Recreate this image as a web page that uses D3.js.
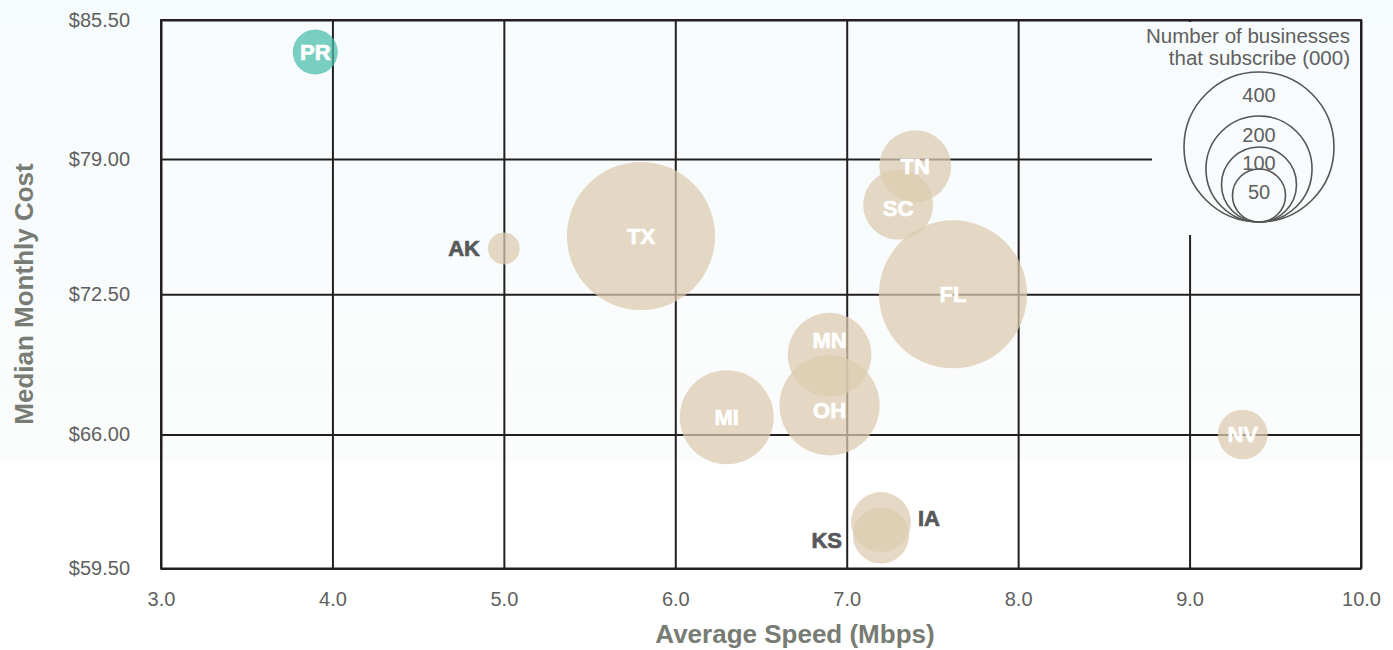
<!DOCTYPE html>
<html><head><meta charset="utf-8">
<script src="https://cdn.jsdelivr.net/npm/d3@7"></script>
<style>
html,body{margin:0;padding:0;background:#fff;}
svg{display:block;font-family:"Liberation Sans",Arial,Helvetica,sans-serif;}
</style></head>
<body>
<svg id="chart" width="1393" height="650"></svg>
<script>
// ---- data ----
const states     = ["PR","AK","TX","TN","SC","FL","MN","OH","MI","NV","IA","KS"];
const speed      = [3.9, 5.0, 5.8, 7.4, 7.3, 7.62, 6.9, 6.9, 6.3, 9.31, 7.2, 7.2];
const cost       = [84.0, 74.7, 75.3, 78.65, 76.8, 72.5, 69.7, 67.35, 66.8, 66.0, 61.75, 61.1];
const businesses = [36, 18, 390, 92, 87, 390, 125, 178, 157, 44, 64, 56];
const xTicks = [3,4,5,6,7,8,9,10];
const yTicks = [59.5,66,72.5,79,85.5];
const legendValues = [400,200,100,50];
const legendTitle = ["Number of businesses","that subscribe (000)"];
const xTitle = "Average Speed (Mbps)";
const yTitle = "Median Monthly Cost";

// ---- layout ----
const W = 1393, H = 650;
const pL = 161, pR = 1361, pT = 20, pB = 568.5;
const svg = d3.select("#chart");

const x = d3.scaleLinear().domain([3,10]).range([pL,pR]);
const y = d3.scaleLinear().domain(yTicks).range([568.5,434.5,294.3,159,20]);
const r = d3.scaleSqrt().domain([0,400]).range([0,75]);

// background gradient
const defs = svg.append("defs");
const g = defs.append("linearGradient").attr("id","bg")
  .attr("gradientUnits","userSpaceOnUse").attr("x1",0).attr("y1",0).attr("x2",0).attr("y2",H);
g.append("stop").attr("offset",0).attr("stop-color","#f6fbfd");
g.append("stop").attr("offset",0.71).attr("stop-color","#fbfcfc");
g.append("stop").attr("offset",0.711).attr("stop-color","#ffffff");
g.append("stop").attr("offset",1).attr("stop-color","#ffffff");
svg.append("rect").attr("width",W).attr("height",H).attr("fill","url(#bg)");

const lineColor = "#231f20";

// grid + axes
const yAxis = d3.axisLeft(y).tickValues(yTicks).tickSize(-(pR-pL)).tickPadding(31)
  .tickFormat(d => "$" + d3.format(".2f")(d));
const gy = svg.append("g").attr("transform",`translate(${pL},0)`).call(yAxis);
gy.select(".domain").remove();
gy.selectAll("line").attr("stroke",lineColor).attr("stroke-width",2);
gy.selectAll("text").attr("fill","#5f5f5f").attr("font-size",20);

const xAxis = d3.axisBottom(x).tickValues(xTicks).tickSize(-(pB-pT)).tickPadding(23)
  .tickFormat(d3.format(".1f"));
const gx = svg.append("g").attr("transform",`translate(0,${pB})`).call(xAxis);
gx.select(".domain").remove();
gx.selectAll("line").attr("stroke",lineColor).attr("stroke-width",2);
gx.selectAll("text").attr("fill","#5f5f5f").attr("font-size",20);

// legend cutout (covers grid lines)
svg.append("rect").attr("x",1152).attr("y",pT+2).attr("width",pR-1153).attr("height",235-pT-2)
  .attr("fill","url(#bg)");

// border
svg.append("rect").attr("x",pL).attr("y",pT).attr("width",pR-pL).attr("height",pB-pT)
  .attr("fill","none").attr("stroke",lineColor).attr("stroke-width",2);

// bubbles
const data = states.map((s,i)=>({s, sp:speed[i], c:cost[i], b:businesses[i]}));
const outside = {AK:"left", KS:"left", IA:"right"};
const labelShift = {MN:-15, OH:5, SC:3, IA:-4, KS:5};
const bub = svg.append("g");
bub.selectAll("circle").data(data).join("circle")
  .attr("cx",d=>x(d.sp)).attr("cy",d=>y(d.c)).attr("r",d=>r(d.b))
  .attr("fill",d=>d.s==="PR" ? "#49bdaa" : "#dccbaf").attr("fill-opacity",0.73);

bub.selectAll("text").data(data).join("text")
  .attr("x",d=>{
    const side = outside[d.s];
    if (side==="left") return x(d.sp) - r(d.b) - (d.s==="KS" ? 11 : 8);
    if (side==="right") return x(d.sp) + r(d.b) + 7;
    return x(d.sp);
  })
  .attr("y",d=>y(d.c) + (labelShift[d.s] || 0))
  .attr("dy","0.36em")
  .attr("text-anchor",d=>outside[d.s]==="left" ? "end" : outside[d.s]==="right" ? "start" : "middle")
  .attr("font-size",22).attr("font-weight","bold")
  .attr("fill",d=>outside[d.s] ? "#58595b" : "#ffffff")
  .attr("stroke",d=>outside[d.s] ? "#58595b" : "#ffffff")
  .attr("stroke-width",0.7)
  .text(d=>d.s);

// size legend
const lg = svg.append("g");
const lcx = 1259, lbase = 222;
const legendLabelOffset = {400:23, 200:19, 100:16, 50:23};
lg.selectAll("circle").data(legendValues).join("circle")
  .attr("cx",lcx).attr("cy",d=>lbase - r(d)).attr("r",d=>r(d))
  .attr("fill","none").attr("stroke","#555").attr("stroke-width",1.6);
lg.selectAll("text.lv").data(legendValues).join("text").attr("class","lv")
  .attr("x",lcx).attr("y",d=>lbase - 2*r(d) + legendLabelOffset[d])
  .attr("dy","0.36em").attr("text-anchor","middle")
  .attr("font-size",20).attr("fill","#5f5f5f").text(d=>d);
lg.selectAll("text.lt").data(legendTitle).join("text").attr("class","lt")
  .attr("x",1350).attr("y",(d,i)=>43 + i*22).attr("text-anchor","end")
  .attr("font-size",20.5).attr("fill","#5f5f5f").text(d=>d);

// axis titles
svg.append("text").attr("x",795).attr("y",643).attr("text-anchor","middle")
  .attr("font-size",26).attr("font-weight","bold").attr("fill","#787c74").text(xTitle);
svg.append("text").attr("transform","translate(33,294) rotate(-90)").attr("text-anchor","middle")
  .attr("font-size",26).attr("font-weight","bold").attr("fill","#787c74").text(yTitle);
</script>
</body></html>
